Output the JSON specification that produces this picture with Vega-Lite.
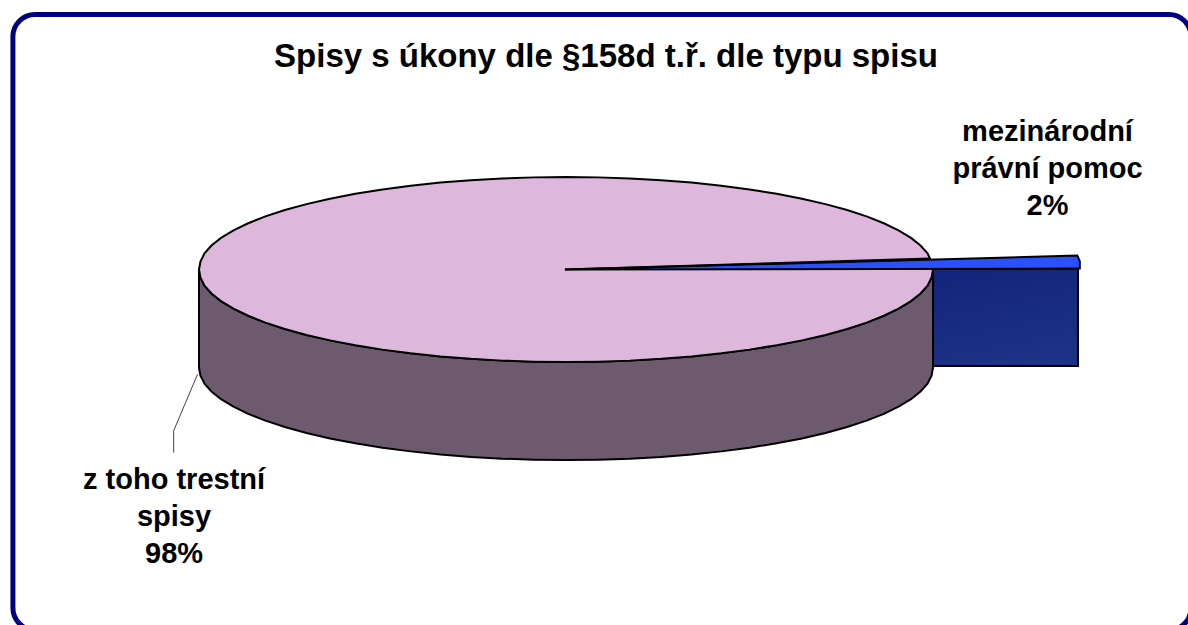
{
"$schema":"https://vega.github.io/schema/vega-lite/v6.json",
"width":1188,"height":625,"padding":0,"autosize":{"type":"none"},
"background":"white",
"view":{"stroke":null},
"title":{"text":"Spisy s úkony dle §158d t.ř. dle typu spisu","anchor":"middle","dx":12,"dy":74,"offset":0,"font":"Liberation Sans","fontSize":33,"fontWeight":"bold","color":"black"},
"datasets":{
"frame":[{"x":-150.7,"x2":170.3,"y":275.7,"y2":-389.8}],
"pie":[
{"x":-100,"top":0,"bottom":0,"base":-106},
{"x":-99.6,"top":8.7,"bottom":-8.7,"base":-114.7},
{"x":-98.5,"top":17.4,"bottom":-17.4,"base":-123.4},
{"x":-96.6,"top":25.9,"bottom":-25.9,"base":-131.9},
{"x":-94,"top":34.2,"bottom":-34.2,"base":-140.2},
{"x":-90.6,"top":42.3,"bottom":-42.3,"base":-148.3},
{"x":-86.6,"top":50,"bottom":-50,"base":-156},
{"x":-81.9,"top":57.4,"bottom":-57.4,"base":-163.4},
{"x":-76.6,"top":64.3,"bottom":-64.3,"base":-170.3},
{"x":-70.7,"top":70.7,"bottom":-70.7,"base":-176.7},
{"x":-64.3,"top":76.6,"bottom":-76.6,"base":-182.6},
{"x":-57.4,"top":81.9,"bottom":-81.9,"base":-187.9},
{"x":-50,"top":86.6,"bottom":-86.6,"base":-192.6},
{"x":-42.3,"top":90.6,"bottom":-90.6,"base":-196.6},
{"x":-34.2,"top":94,"bottom":-94,"base":-200},
{"x":-25.9,"top":96.6,"bottom":-96.6,"base":-202.6},
{"x":-17.4,"top":98.5,"bottom":-98.5,"base":-204.5},
{"x":-8.7,"top":99.6,"bottom":-99.6,"base":-205.6},
{"x":0,"top":100,"bottom":-100,"base":-206},
{"x":8.7,"top":99.6,"bottom":-99.6,"base":-205.6},
{"x":17.4,"top":98.5,"bottom":-98.5,"base":-204.5},
{"x":25.9,"top":96.6,"bottom":-96.6,"base":-202.6},
{"x":34.2,"top":94,"bottom":-94,"base":-200},
{"x":42.3,"top":90.6,"bottom":-90.6,"base":-196.6},
{"x":50,"top":86.6,"bottom":-86.6,"base":-192.6},
{"x":57.4,"top":81.9,"bottom":-81.9,"base":-187.9},
{"x":64.3,"top":76.6,"bottom":-76.6,"base":-182.6},
{"x":70.7,"top":70.7,"bottom":-70.7,"base":-176.7},
{"x":76.6,"top":64.3,"bottom":-64.3,"base":-170.3},
{"x":81.9,"top":57.4,"bottom":-57.4,"base":-163.4},
{"x":86.6,"top":50,"bottom":-50,"base":-156},
{"x":90.6,"top":42.3,"bottom":-42.3,"base":-148.3},
{"x":94,"top":34.2,"bottom":-34.2,"base":-140.2},
{"x":96.6,"top":25.9,"bottom":-25.9,"base":-131.9},
{"x":98.5,"top":17.4,"bottom":-17.4,"base":-123.4},
{"x":99.6,"top":8.7,"bottom":-8.7,"base":-114.7},
{"x":100,"top":0,"bottom":0,"base":-106}
],
"sliceWall":[{"x":100,"top":1,"base":-104.3},{"x":139.5,"top":1,"base":-104.3}],
"sliceTop":[{"x":-0.3,"top":0,"bottom":0},{"x":139.3,"top":15.1,"bottom":1},{"x":140,"top":9,"bottom":1}],
"sliceEdge":[{"x":-0.3,"y":0},{"x":99.2,"y":11.9}],
"leader":[{"x":-100.4,"y":-113.3},{"x":-106.9,"y":-174.3},{"x":-106.9,"y":-198}],
"labels":[
{"category":"mezinárodní právní pomoc","share":2,"label":"mezinárodní\nprávní pomoc\n2%","x":131.2,"y":148.2},
{"category":"z toho trestní spisy","share":98,"label":"z toho trestní\nspisy\n98%","x":-106.8,"y":-227.8}
]},
"encoding":{
"x":{"field":"x","type":"quantitative","axis":null,"scale":{"domain":[-154.22,169.48],"nice":false,"zero":false}},
"y":{"field":"y","type":"quantitative","axis":null,"scale":{"domain":[-384.3,291.35],"nice":false,"zero":false}}
},
"layer":[
{"data":{"name":"frame"},"mark":{"type":"rect","fill":"white","stroke":"#000080","strokeWidth":5,"cornerRadius":22},
 "encoding":{"x2":{"field":"x2"},"y2":{"field":"y2"}}},
{"data":{"name":"sliceWall"},"mark":{"type":"area","orient":"vertical","stroke":"black","strokeWidth":2,"fill":{"x1":0,"y1":0,"x2":0.3,"y2":1,"gradient":"linear","stops":[{"offset":0,"color":"#13237B"},{"offset":1,"color":"#1C3285"}]}},
 "encoding":{"y":{"field":"top","type":"quantitative"},"y2":{"field":"base"}}},
{"data":{"name":"pie"},"mark":{"type":"area","orient":"vertical","stroke":"black","strokeWidth":2,"fill":"#6E5A6E"},
 "encoding":{"y":{"field":"bottom","type":"quantitative"},"y2":{"field":"base"}}},
{"data":{"name":"pie"},"mark":{"type":"area","orient":"vertical","stroke":"black","strokeWidth":2,"fill":"#DDB8DC"},
 "encoding":{"y":{"field":"top","type":"quantitative"},"y2":{"field":"bottom"}}},
{"data":{"name":"sliceTop"},"mark":{"type":"area","orient":"vertical","stroke":"black","strokeWidth":2,"fill":"#2A50FF"},
 "encoding":{"y":{"field":"top","type":"quantitative"},"y2":{"field":"bottom"}}},
{"data":{"name":"sliceEdge"},"mark":{"type":"line","stroke":"black","strokeWidth":2},"encoding":{}},
{"data":{"name":"leader"},"mark":{"type":"line","stroke":"#444444","strokeWidth":1},"encoding":{"order":{"field":"y","sort":"descending"}}},
{"data":{"name":"labels"},"mark":{"type":"text","font":"Liberation Sans","fontSize":29,"fontWeight":"bold","color":"black","lineBreak":"\n","lineHeight":37,"align":"center","baseline":"middle"},
 "encoding":{"text":{"field":"label"}}}
]
}
